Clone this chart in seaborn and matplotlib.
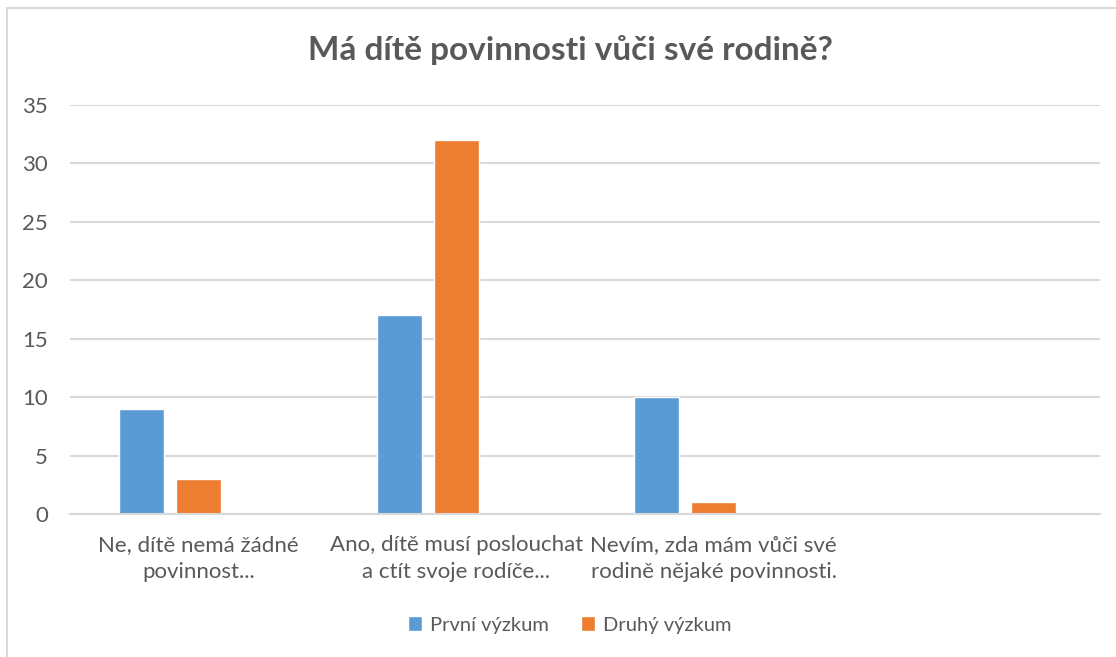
import numpy as np
import pandas as pd
import matplotlib
matplotlib.use("Agg")
import matplotlib.pyplot as plt
import seaborn as sns

categories = ["Ne, dítě nemá žádné\npovinnost...",
              "Ano, dítě musí poslouchat\na ctít svoje rodíče...",
              "Nevím, zda mám vůči své\nrodině nějaké povinnosti.",
              " "]
# the third series is empty in the source chart but still takes its slot
series = ["První výzkum", "Druhý výzkum", "Řada3"]
prvni = [9, 17, 10]
druhy = [3, 32, 1]
colors = ["#5B9BD5", "#ED7D31", "#A5A5A5"]

df = pd.DataFrame({
    "kategorie": categories[:3] * 2,
    "vyzkum": [series[0]] * 3 + [series[1]] * 3,
    "hodnota": prvni + druhy,
})

sns.set_style("white")
plt.rcParams["font.family"] = ["Lato", "DejaVu Sans"]
text_col = "#595959"

fig = plt.figure(figsize=(11.16, 6.57), dpi=100)
ax = fig.add_axes([70 / 1116, 143 / 657, 1030 / 1116, 409 / 657])

sns.barplot(data=df, x="kategorie", y="hodnota", hue="vyzkum", order=categories,
            hue_order=series, palette=colors, width=0.663, gap=0.21,
            saturation=1, ax=ax, legend=True)

ax.set_xlim(-0.5, 3.5)
ax.set_ylim(0, 35)
ax.set_yticks(range(0, 36, 5))
ax.yaxis.grid(True, color="#D9D9D9", linewidth=1.5)
ax.set_axisbelow(True)
for s in ["top", "right", "left"]:
    ax.spines[s].set_visible(False)
ax.spines["bottom"].set_color("#D9D9D9")
ax.spines["bottom"].set_linewidth(1.5)
ax.tick_params(axis="both", length=0, labelsize=16, labelcolor=text_col)
ax.tick_params(axis="x", pad=15)
ax.tick_params(axis="y", pad=16)
for lab in ax.get_xticklabels():
    lab.set_linespacing(1.45)
ax.set_xlabel("")
ax.set_ylabel("")

fig.text(570 / 1116, 1 - 50 / 657, "Má dítě povinnosti vůči své rodině?",
         ha="center", va="center", fontsize=24, fontweight="bold", color=text_col)

handles, labels = ax.get_legend_handles_labels()
ax.get_legend().remove()
fig.legend(handles[:2], labels[:2], loc="center", bbox_to_anchor=(570 / 1116, 1 - 625 / 657),
           ncol=2, frameon=False, fontsize=14.5, labelcolor=text_col,
           handlelength=0.7, handleheight=0.7, handletextpad=0.4, columnspacing=1.6)

# thin chart frame
fig.add_artist(plt.Line2D([7 / 1116, 7 / 1116], [0, 1 - 8 / 657], transform=fig.transFigure,
                          color="#D9D9D9", linewidth=1.5))
fig.add_artist(plt.Line2D([7 / 1116, 1], [1 - 8 / 657, 1 - 8 / 657], transform=fig.transFigure,
                          color="#D9D9D9", linewidth=1.5))

fig.savefig("out.png", dpi=100)
